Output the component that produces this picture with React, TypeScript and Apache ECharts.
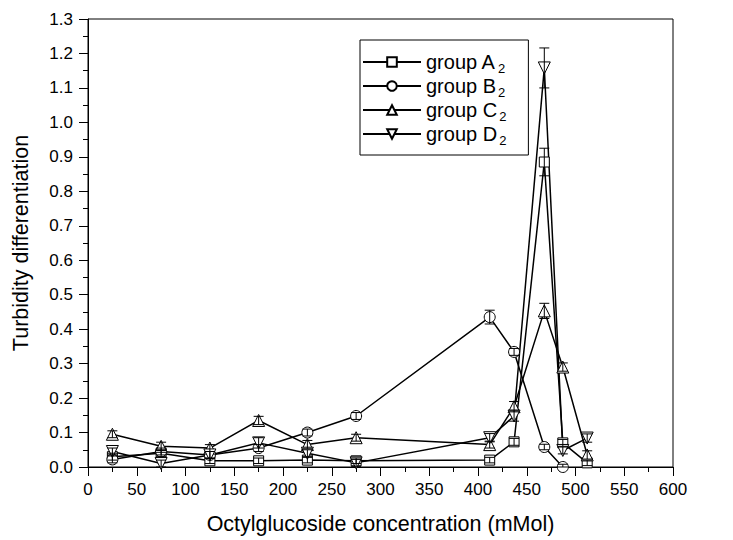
import React, { useEffect, useRef } from "react";
import * as echarts from "echarts";

const concentrations = [25, 75, 125, 175, 225, 275, 412, 437, 468, 487, 512];
const groupA = [0.03, 0.04, 0.018, 0.018, 0.02, 0.018, 0.02, 0.073, 0.885, 0.07, 0.012];
const groupB = [0.022, 0.045, 0.035, 0.055, 0.1, 0.148, 0.435, 0.334, 0.058, 0.0];
const groupC = [0.095, 0.06, 0.055, 0.135, 0.065, 0.085, 0.065, 0.175, 0.453, 0.29, 0.035];
const groupD = [0.045, 0.01, 0.035, 0.07, 0.04, 0.012, 0.085, 0.148, 1.158, 0.048, 0.084];
const errA = [0.01, 0.01, 0.008, 0.008, 0.008, 0.008, 0.008, 0.01, 0.04, 0.01, 0.008];
const errB = [0.01, 0.01, 0.01, 0.01, 0.01, 0.01, 0.02, 0.01, 0.008, 0.008];
const errC = [0.01, 0.012, 0.01, 0.012, 0.012, 0.01, 0.01, 0.015, 0.022, 0.012, 0.012];
const errD = [0.01, 0.01, 0.01, 0.015, 0.01, 0.01, 0.012, 0.015, 0.058, 0.01, 0.012];
const seriesNames = ["group A", "group B", "group C", "group D"];

const FONT = "Liberation Sans, Arial, sans-serif";

export default function App() {
  const ref = useRef<HTMLDivElement>(null);
  useEffect(() => {
    if (!ref.current) return;
    const chart = echarts.init(ref.current, null, { renderer: "svg" });
    const values = [groupA, groupB, groupC, groupD];
    const errs = [errA, errB, errC, errD];
    const symbols = ["rect", "circle", "triangle", "triangle"];
    const rotates = [0, 0, 0, 180];
    const sizes = [10, 11, 12, 12];

    const lineSeries = values.map((vals, i) => ({
      name: seriesNames[i],
      type: "line",
      data: vals.map((v, j) => [concentrations[j], v]),
      symbol: symbols[i],
      symbolRotate: rotates[i],
      symbolSize: sizes[i],
      showAllSymbol: true,
      lineStyle: { color: "#000", width: 1.5 },
      itemStyle: { color: "#fff", borderColor: "#000", borderWidth: 1 },
      z: 3,
    }));

    const errSeries = values.map((vals, i) => ({
      name: seriesNames[i] + " err",
      type: "custom",
      data: vals.map((v, j) => [concentrations[j], v, errs[i][j]]),
      z: 4,
      renderItem: (params: any, api: any) => {
        const x = api.value(0);
        const y = api.value(1);
        const e = api.value(2);
        const top = api.coord([x, y + e]);
        const bot = api.coord([x, Math.max(0, y - e)]);
        const w = 5;
        const st = { stroke: "#000", lineWidth: 1 };
        return {
          type: "group",
          children: [
            { type: "line", shape: { x1: top[0], y1: top[1], x2: bot[0], y2: bot[1] }, style: st },
            { type: "line", shape: { x1: top[0] - w, y1: top[1], x2: top[0] + w, y2: top[1] }, style: st },
            { type: "line", shape: { x1: bot[0] - w, y1: bot[1], x2: bot[0] + w, y2: bot[1] }, style: st },
          ],
        };
      },
    }));

    chart.setOption({
      animation: false,
      backgroundColor: "#fff",
      textStyle: { fontFamily: FONT },
      grid: {
        left: 88,
        right: 60,
        top: 19,
        bottom: 73,
        show: true,
        borderColor: "#000",
        borderWidth: 1,
        backgroundColor: "transparent",
      },
      legend: {
        data: seriesNames,
        orient: "vertical",
        left: 360,
        top: 40,
        itemWidth: 58,
        itemHeight: 12,
        itemGap: 1,
        borderColor: "#000",
        borderWidth: 1,
        padding: [12, 22, 8, 2],
        formatter: (name: string) => `{n|${name}}{s|2}`,
        textStyle: {
          color: "#000",
          fontFamily: FONT,
          rich: {
            n: { fontSize: 20, fontFamily: FONT, color: "#000" },
            s: { fontSize: 13, fontFamily: FONT, color: "#000", padding: [13, 0, 0, 2] },
          },
        },
      },
      xAxis: {
        type: "value",
        min: 0,
        max: 600,
        interval: 50,
        name: "Octylglucoside concentration (mMol)",
        nameLocation: "middle",
        nameGap: 46,
        nameTextStyle: { fontSize: 21.5, color: "#000", fontFamily: FONT },
        axisLine: { lineStyle: { color: "#000", width: 1 } },
        axisTick: { show: true, inside: false, length: 9, lineStyle: { color: "#000" } },
        minorTick: { show: true, splitNumber: 2, length: 5, lineStyle: { color: "#000" } },
        axisLabel: { fontSize: 17, color: "#000", margin: 14, fontFamily: FONT },
        splitLine: { show: false },
      },
      yAxis: {
        type: "value",
        min: 0,
        max: 1.3,
        interval: 0.1,
        name: "Turbidity differentiation",
        nameLocation: "middle",
        nameGap: 56,
        nameTextStyle: { fontSize: 21.5, color: "#000", fontFamily: FONT },
        axisLine: { lineStyle: { color: "#000", width: 1 } },
        axisTick: { show: true, inside: false, length: 9, lineStyle: { color: "#000" } },
        minorTick: { show: true, splitNumber: 2, length: 5, lineStyle: { color: "#000" } },
        axisLabel: {
          fontSize: 17,
          color: "#000",
          margin: 15,
          fontFamily: FONT,
          formatter: (v: number) => v.toFixed(1),
        },
        splitLine: { show: false },
      },
      series: [...errSeries, ...lineSeries],
    });
    return () => chart.dispose();
  }, []);
  return <div ref={ref} style={{ width: 733, height: 540, position: "absolute", left: 0, top: 0 }} />;
}
